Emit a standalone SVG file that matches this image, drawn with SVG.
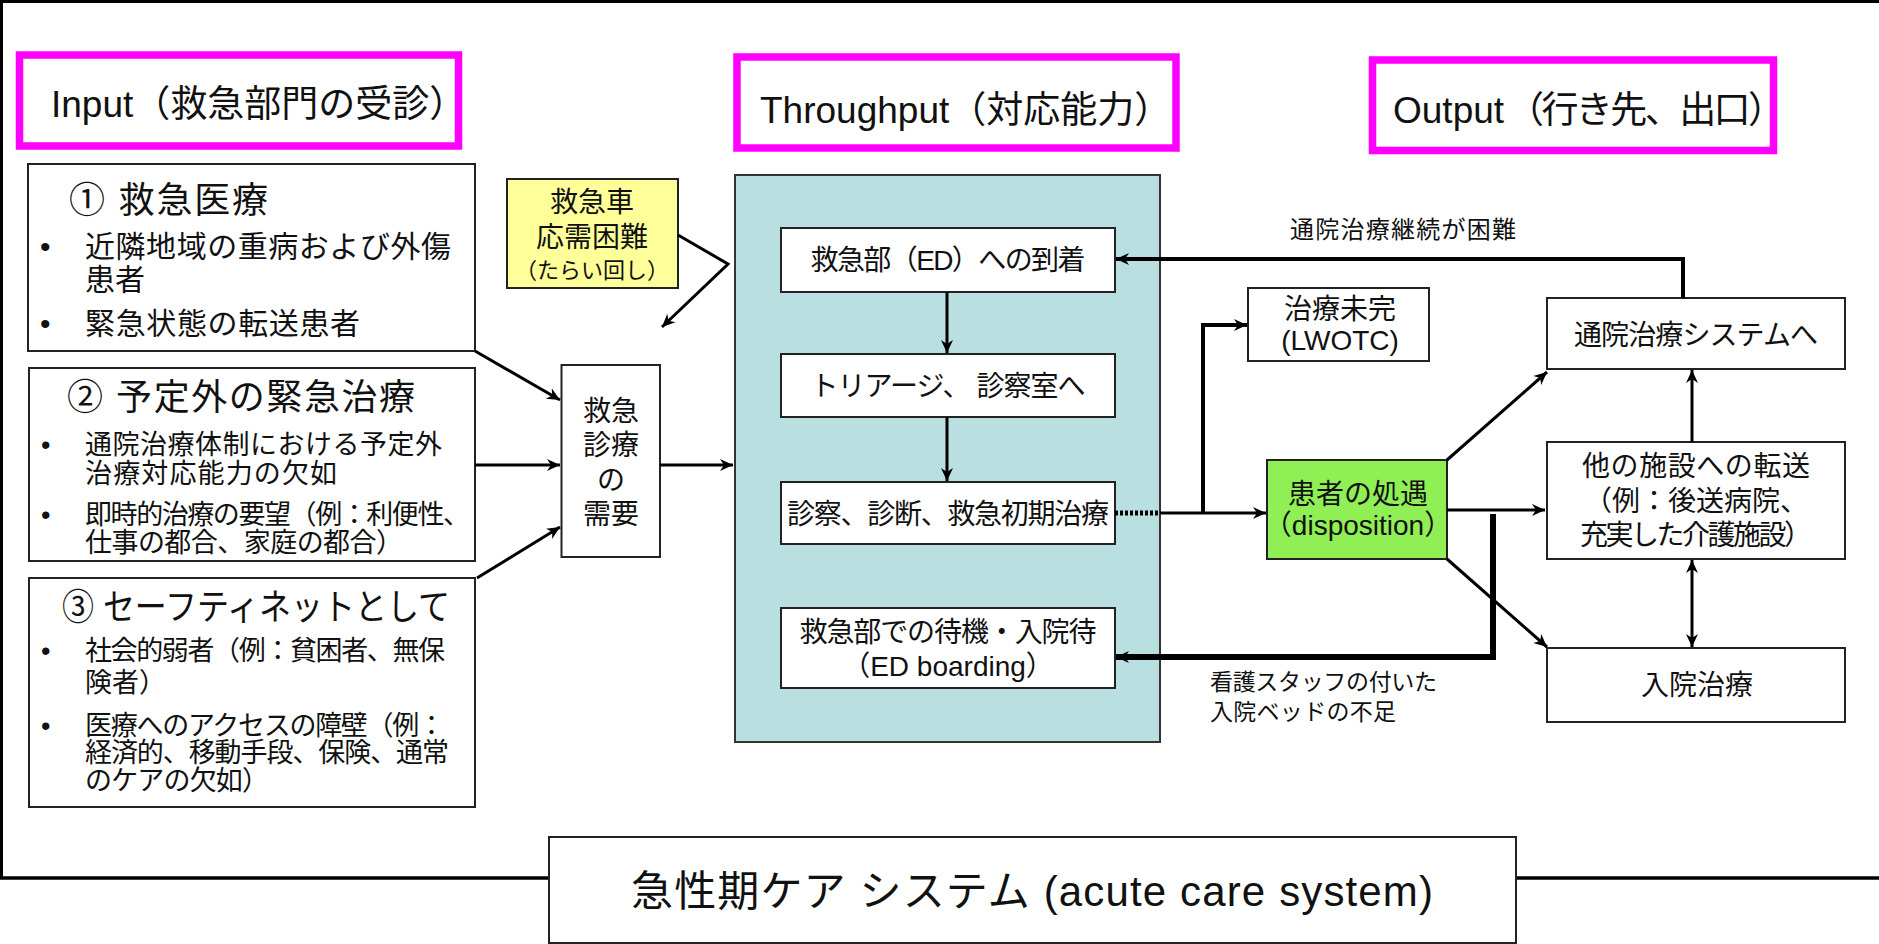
<svg xmlns="http://www.w3.org/2000/svg" width="1879" height="944" viewBox="0 0 1879 944">
<style>
text{font-family:"Liberation Sans","Noto Sans CJK JP",sans-serif;fill:#111}
.c{text-anchor:middle}
.box{fill:#fff;stroke:#222;stroke-width:2}
.mag{fill:#fff;stroke:#FF00FF;stroke-width:7.5}
.ln{fill:none;stroke:#000;stroke-width:3}
.thk{fill:none;stroke:#000;stroke-width:4}
.h{font-size:37px}
.hd{font-size:36px}
.b1{font-size:30px}
.b2{font-size:27px}
.t{font-size:28px}
.s{font-size:23px}
</style>
<defs>
<marker id="ar" markerUnits="userSpaceOnUse" markerWidth="14" markerHeight="14" viewBox="0 0 14 14" refX="13" refY="7" orient="auto-start-reverse">
<path d="M0,1 L13,7 L0,13 L4,7 z" fill="#000"/>
</marker>
</defs>

<g id="frame">
<path d="M1.5,878 V1.5 H1879" fill="none" stroke="#000" stroke-width="3"/>
<line x1="0" y1="878" x2="549" y2="878" stroke="#000" stroke-width="3.5"/>
<line x1="1516" y1="878" x2="1879" y2="878" stroke="#000" stroke-width="3.5"/>
</g>

<g id="caption">
<rect x="549" y="837" width="967" height="106" class="box"/>
<text x="1032" y="906" class="c" style="font-size:42px" textLength="802" lengthAdjust="spacing">急性期ケア システム (acute care system)</text>
</g>

<g id="hdr-input">
<rect x="19.5" y="55" width="439" height="91" class="mag"/>
<text x="51" y="117" class="h">Input（救急部門の受診）</text>
</g>
<g id="hdr-throughput">
<rect x="737" y="57" width="439" height="91" class="mag"/>
<text x="760" y="123" class="h">Throughput（対応能力）</text>
</g>
<g id="hdr-output">
<rect x="1372.5" y="60" width="401" height="90.5" class="mag"/>
<text x="1393" y="123" class="h">Output</text>
<text x="1507" y="123" class="h" textLength="278" lengthAdjust="spacing">（行き先、出口）</text>
</g>

<g id="box1">
<rect x="28" y="164" width="447" height="187" class="box"/>
<text x="69" y="213" class="hd" textLength="199" lengthAdjust="spacing">① 救急医療</text>
<text x="40" y="257" class="b1">•</text>
<text x="85" y="257" class="b1" textLength="366" lengthAdjust="spacing">近隣地域の重病および外傷</text>
<text x="85" y="290" class="b1">患者</text>
<text x="40" y="334" class="b1">•</text>
<text x="85" y="334" class="b1" textLength="275" lengthAdjust="spacing">緊急状態の転送患者</text>
</g>

<g id="box2">
<rect x="29" y="368" width="446" height="193" class="box"/>
<text x="67" y="410" class="hd" textLength="348" lengthAdjust="spacing">② 予定外の緊急治療</text>
<text x="41" y="454" class="b2">•</text>
<text x="85" y="454" class="b2" textLength="357" lengthAdjust="spacing">通院治療体制における予定外</text>
<text x="85" y="483" class="b2" textLength="252" lengthAdjust="spacing">治療対応能力の欠如</text>
<text x="41" y="524" class="b2">•</text>
<text x="85" y="524" class="b2" textLength="385" lengthAdjust="spacing">即時的治療の要望（例：利便性、</text>
<text x="85" y="552" class="b2" textLength="318" lengthAdjust="spacing">仕事の都合、家庭の都合）</text>
</g>

<g id="box3">
<rect x="29" y="578" width="446" height="229" class="box"/>
<text x="62" y="620" class="hd" textLength="388" lengthAdjust="spacingAndGlyphs">③ セーフティネットとして</text>
<text x="41" y="660" class="b2">•</text>
<text x="85" y="660" class="b2" textLength="360" lengthAdjust="spacing">社会的弱者（例：貧困者、無保</text>
<text x="85" y="692" class="b2">険者）</text>
<text x="41" y="735" class="b2">•</text>
<text x="85" y="735" class="b2" textLength="360" lengthAdjust="spacing">医療へのアクセスの障壁（例：</text>
<text x="85" y="762" class="b2" textLength="364" lengthAdjust="spacing">経済的、移動手段、保険、通常</text>
<text x="85" y="790" class="b2" textLength="184" lengthAdjust="spacing">のケアの欠如）</text>
</g>

<g id="ambulance">
<rect x="507" y="179" width="171" height="109" fill="#FFFF99" stroke="#222" stroke-width="2"/>
<text x="592" y="212" class="c t">救急車</text>
<text x="592" y="247" class="c t">応需困難</text>
<text x="592" y="278" class="c" style="font-size:22px">（たらい回し）</text>
</g>

<g id="demand">
<rect x="561.5" y="365" width="98.5" height="192" class="box"/>
<text x="611" y="421" class="c t">救急</text>
<text x="611" y="455" class="c t">診療</text>
<text x="611" y="490" class="c t">の</text>
<text x="611" y="524" class="c t">需要</text>
</g>

<g id="throughput-area">
<rect x="735" y="175" width="425" height="567" fill="#BADFE1" stroke="#333" stroke-width="2"/>
</g>
<g id="arrival">
<rect x="781" y="228" width="334" height="64" class="box"/>
<text x="948" y="270" class="c t" textLength="275" lengthAdjust="spacing">救急部（ED）への到着</text>
</g>
<g id="triage">
<rect x="781" y="354" width="334" height="63" class="box"/>
<text x="948" y="396" class="c t" textLength="275" lengthAdjust="spacing">トリアージ、 診察室へ</text>
</g>
<g id="exam">
<rect x="781" y="482" width="334" height="62" class="box"/>
<text x="948" y="524" class="c t" textLength="322" lengthAdjust="spacing">診察、診断、救急初期治療</text>
</g>
<g id="boarding">
<rect x="781" y="608" width="334" height="80" class="box"/>
<text x="948" y="642" class="c t" textLength="297" lengthAdjust="spacing">救急部での待機・入院待</text>
<text x="948" y="676" class="c t">（ED boarding）</text>
</g>

<g id="lwotc">
<rect x="1248" y="288" width="181" height="73" class="box"/>
<text x="1340" y="319" class="c t">治療未完</text>
<text x="1340" y="350" class="c t">(LWOTC)</text>
</g>
<g id="disposition">
<rect x="1267" y="460" width="180" height="99" fill="#8FEF55" stroke="#222" stroke-width="2"/>
<text x="1358" y="504" class="c t">患者の処遇</text>
<text x="1358" y="535" class="c t">（disposition）</text>
</g>
<g id="outpatient">
<rect x="1547" y="298" width="298" height="71" class="box"/>
<text x="1696" y="345" class="c t" textLength="244" lengthAdjust="spacing">通院治療システムへ</text>
</g>
<g id="transfer">
<rect x="1547" y="442" width="298" height="117" class="box"/>
<text x="1696" y="476" class="c t" textLength="228" lengthAdjust="spacing">他の施設への転送</text>
<text x="1696" y="511" class="c t">（例：後送病院、</text>
<text x="1696" y="545" class="c t" textLength="232" lengthAdjust="spacing">充実した介護施設）</text>
</g>
<g id="inpatient">
<rect x="1547" y="648" width="298" height="74" class="box"/>
<text x="1697" y="695" class="c t">入院治療</text>
</g>

<g id="labels">
<text x="1290" y="238" style="font-size:24px" textLength="226" lengthAdjust="spacing">通院治療継続が困難</text>
<text x="1210" y="690" class="s" textLength="227" lengthAdjust="spacing">看護スタッフの付いた</text>
<text x="1210" y="720" class="s" textLength="186" lengthAdjust="spacing">入院ベッドの不足</text>
</g>

<g id="connectors">
<line x1="475" y1="351" x2="560" y2="400" class="ln" marker-end="url(#ar)"/>
<line x1="475" y1="465" x2="560" y2="465" class="ln" marker-end="url(#ar)"/>
<line x1="477" y1="578" x2="560" y2="527" class="ln" marker-end="url(#ar)"/>
<line x1="660" y1="465" x2="733" y2="465" class="ln" marker-end="url(#ar)"/>
<polyline points="678,235 728,264 662,327" class="ln" marker-end="url(#ar)"/>
<line x1="947" y1="292" x2="947" y2="353" class="ln" marker-end="url(#ar)"/>
<line x1="947" y1="417" x2="947" y2="481" class="ln" marker-end="url(#ar)"/>
<line x1="1115" y1="513" x2="1160" y2="513" fill="none" stroke="#000" stroke-width="5" stroke-dasharray="3,2"/>
<line x1="1160" y1="513" x2="1266" y2="513" class="ln" marker-end="url(#ar)"/>
<polyline points="1203,513 1203,325 1247,325" class="thk" marker-end="url(#ar)"/>
<polyline points="1683,298 1683,259 1116,259" class="thk" marker-end="url(#ar)"/>
<line x1="1447" y1="460" x2="1547" y2="372" class="ln" marker-end="url(#ar)"/>
<line x1="1447" y1="510" x2="1545" y2="510" class="ln" marker-end="url(#ar)"/>
<line x1="1447" y1="559" x2="1547" y2="647" class="ln" marker-end="url(#ar)"/>
<polyline points="1493,514 1493,657 1116,657" fill="none" stroke="#000" stroke-width="6" marker-end="url(#ar)"/>
<line x1="1692" y1="442" x2="1692" y2="370" class="ln" marker-end="url(#ar)"/>
<line x1="1692" y1="560" x2="1692" y2="647" class="ln" marker-start="url(#ar)" marker-end="url(#ar)"/>
</g>
</svg>
